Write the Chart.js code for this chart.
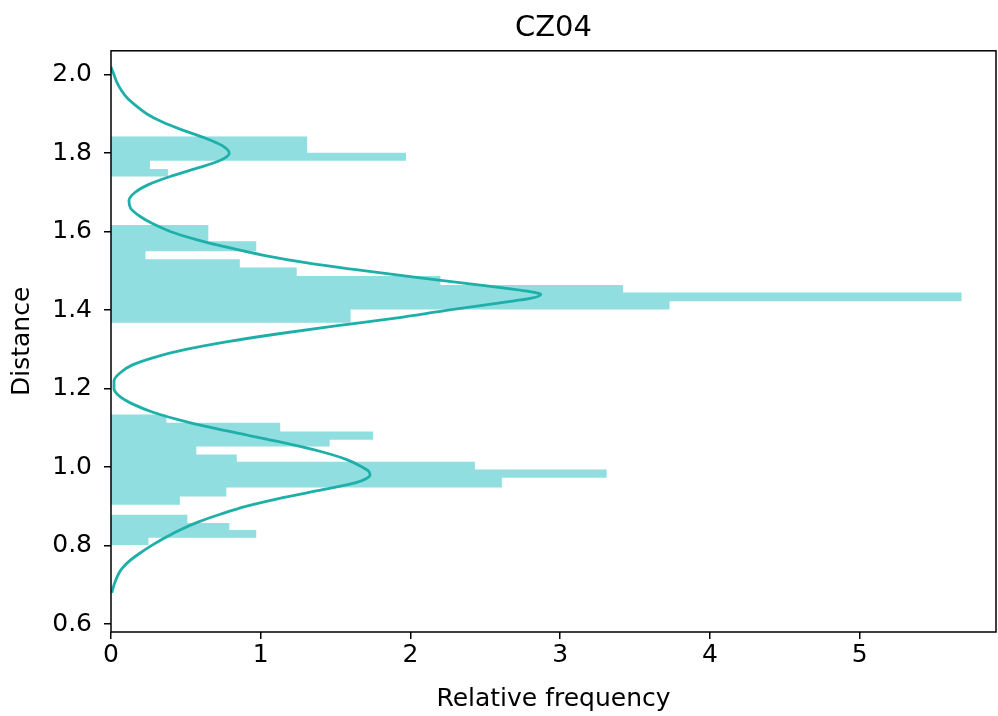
<!DOCTYPE html>
<html>
<head>
<meta charset="utf-8">
<title>CZ04</title>
<script src="https://cdn.jsdelivr.net/npm/chart.js@4"></script>
<style>
  html, body { margin: 0; padding: 0; background: #ffffff; }
</style>
</head>
<body>
<canvas id="distance-hist" width="998" height="716"></canvas>
<script>
/* Histogram bins (Distance edges, top to bottom) and their relative frequency */
let binEdges = [1.843, 1.801, 1.781, 1.760, 1.741, 1.617, 1.576, 1.550, 1.530, 1.509, 1.487,
    1.464, 1.445, 1.423, 1.402, 1.368, 1.134, 1.113, 1.091, 1.070, 1.053, 1.032, 1.014,
    0.994, 0.973, 0.948, 0.925, 0.904, 0.879, 0.858, 0.840, 0.820, 0.802]
let binFreq = [1.31, 1.97, 0.26, 0.38, 0, 0.65, 0.97, 0.23, 0.86, 1.24, 2.2, 3.42, 5.68,
    3.73, 1.6, 0, 0.37, 1.13, 1.75, 1.46, 0.57, 0.84, 2.43, 3.31, 2.61, 0.77, 0.46, 0,
    0.51, 0.79, 0.97, 0.25]

/* Density curve */
let kdeDistance = [2.02, 2.00, 1.98, 1.96, 1.94, 1.92, 1.90, 1.88, 1.86, 1.84, 1.82, 1.80,
    1.78, 1.76, 1.74, 1.72, 1.70, 1.68, 1.66, 1.64, 1.62, 1.60, 1.58, 1.56, 1.54, 1.52,
    1.50, 1.48, 1.46, 1.45, 1.44, 1.43, 1.42, 1.40, 1.38, 1.36, 1.34, 1.32, 1.30, 1.28,
    1.26, 1.24, 1.22, 1.20, 1.18, 1.16, 1.14, 1.12, 1.10, 1.08, 1.06, 1.04, 1.02, 1.00,
    0.99, 0.98, 0.97, 0.96, 0.94, 0.92, 0.90, 0.88, 0.86, 0.84, 0.82, 0.80, 0.78, 0.76,
    0.74, 0.72, 0.70, 0.68]
let kdeDensity = [0.0, 0.02, 0.04, 0.07, 0.11, 0.17, 0.24, 0.34, 0.47, 0.62, 0.74, 0.79,
    0.72, 0.56, 0.39, 0.25, 0.16, 0.12, 0.13, 0.19, 0.28, 0.40, 0.57, 0.78, 1.02, 1.32,
    1.70, 2.12, 2.55, 2.75, 2.87, 2.80, 2.62, 2.25, 1.90, 1.50, 1.12, 0.78, 0.50, 0.29,
    0.14, 0.06, 0.02, 0.02, 0.06, 0.15, 0.28, 0.46, 0.68, 0.93, 1.18, 1.40, 1.57, 1.68,
    1.72, 1.73, 1.70, 1.63, 1.38, 1.12, 0.90, 0.73, 0.58, 0.46, 0.36, 0.27, 0.19, 0.12,
    0.07, 0.04, 0.02, 0.005]

/* Axis ticks */
let distanceTicks = [0.6, 0.8, 1.0, 1.2, 1.4, 1.6, 1.8, 2.0]
let freqTicks = [0, 1, 2, 3, 4, 5]

// outline of the histogram: each bin becomes a rectangle running from x = 0
let histPoints = [{ x: 0, y: binEdges[0] }]
for (let i = 0; i < binFreq.length; i++) {
    histPoints.push({ x: binFreq[i], y: binEdges[i] })
    histPoints.push({ x: binFreq[i], y: binEdges[i + 1] })
}
histPoints.push({ x: 0, y: binEdges[binEdges.length - 1] })

let kdePoints = kdeDistance.map((d, i) => ({ x: kdeDensity[i], y: d }))

let tickFont = { family: 'DejaVu Sans', size: 25 }

// black box round the plot area, like the spines of the original figure
let frame = {
    id: 'frame',
    afterDatasetsDraw(chart) {
        let a = chart.chartArea
        let ctx = chart.ctx
        ctx.save()
        ctx.strokeStyle = '#000000'
        ctx.lineWidth = 1.5
        ctx.strokeRect(a.left, a.top, a.right - a.left, a.bottom - a.top)
        ctx.restore()
    }
}

let ctx = document.querySelector('#distance-hist').getContext('2d')

let histChart = new Chart(ctx, {
    type: 'line',
    data: {
        datasets: [
            {
                label: 'histogram',
                data: histPoints,
                borderWidth: 0,
                pointRadius: 0,
                fill: 'origin',
                backgroundColor: 'rgb(144, 222, 224)',
                tension: 0,
                order: 2
            },
            {
                label: 'kde',
                data: kdePoints,
                borderColor: 'rgb(30, 176, 168)',
                borderWidth: 2.8,
                pointRadius: 0,
                fill: false,
                cubicInterpolationMode: 'monotone',
                order: 1
            }
        ]
    },
    options: {
        responsive: false,
        animation: false,
        indexAxis: 'y',
        layout: { padding: { left: 0, right: 2, top: 0, bottom: 0 } },
        plugins: {
            legend: { display: false },
            tooltip: { enabled: false },
            title: {
                display: true,
                text: 'CZ04',
                fullSize: false,
                color: '#000000',
                font: { family: 'DejaVu Sans', size: 29, weight: 'normal' },
                padding: { top: 11, bottom: 5 }
            }
        },
        scales: {
            x: {
                type: 'linear',
                min: 0,
                max: 5.91,
                afterFit(scale) { scale.height = 84 },
                afterBuildTicks(scale) { scale.ticks = freqTicks.map(v => ({ value: v })) },
                grid: { drawOnChartArea: false, tickLength: 7, color: '#000000', lineWidth: 1.5 },
                border: { display: false },
                ticks: { color: '#000000', font: tickFont, padding: 1, maxRotation: 0, callback: v => String(v) },
                title: {
                    display: true,
                    text: 'Relative frequency',
                    color: '#000000',
                    font: tickFont,
                    padding: { top: 0, bottom: 2 }
                }
            },
            y: {
                type: 'linear',
                min: 0.58,
                max: 2.061,
                afterFit(scale) { scale.width = 111 },
                afterBuildTicks(scale) { scale.ticks = distanceTicks.map(v => ({ value: v })) },
                grid: { drawOnChartArea: false, tickLength: 7, color: '#000000', lineWidth: 1.5 },
                border: { display: false },
                ticks: { color: '#000000', font: tickFont, padding: 12, callback: v => v.toFixed(1) },
                title: {
                    display: true,
                    text: 'Distance',
                    color: '#000000',
                    font: tickFont,
                    padding: { top: 7, bottom: 0 }
                }
            }
        }
    },
    plugins: [frame]
})
</script>
</body>
</html>
